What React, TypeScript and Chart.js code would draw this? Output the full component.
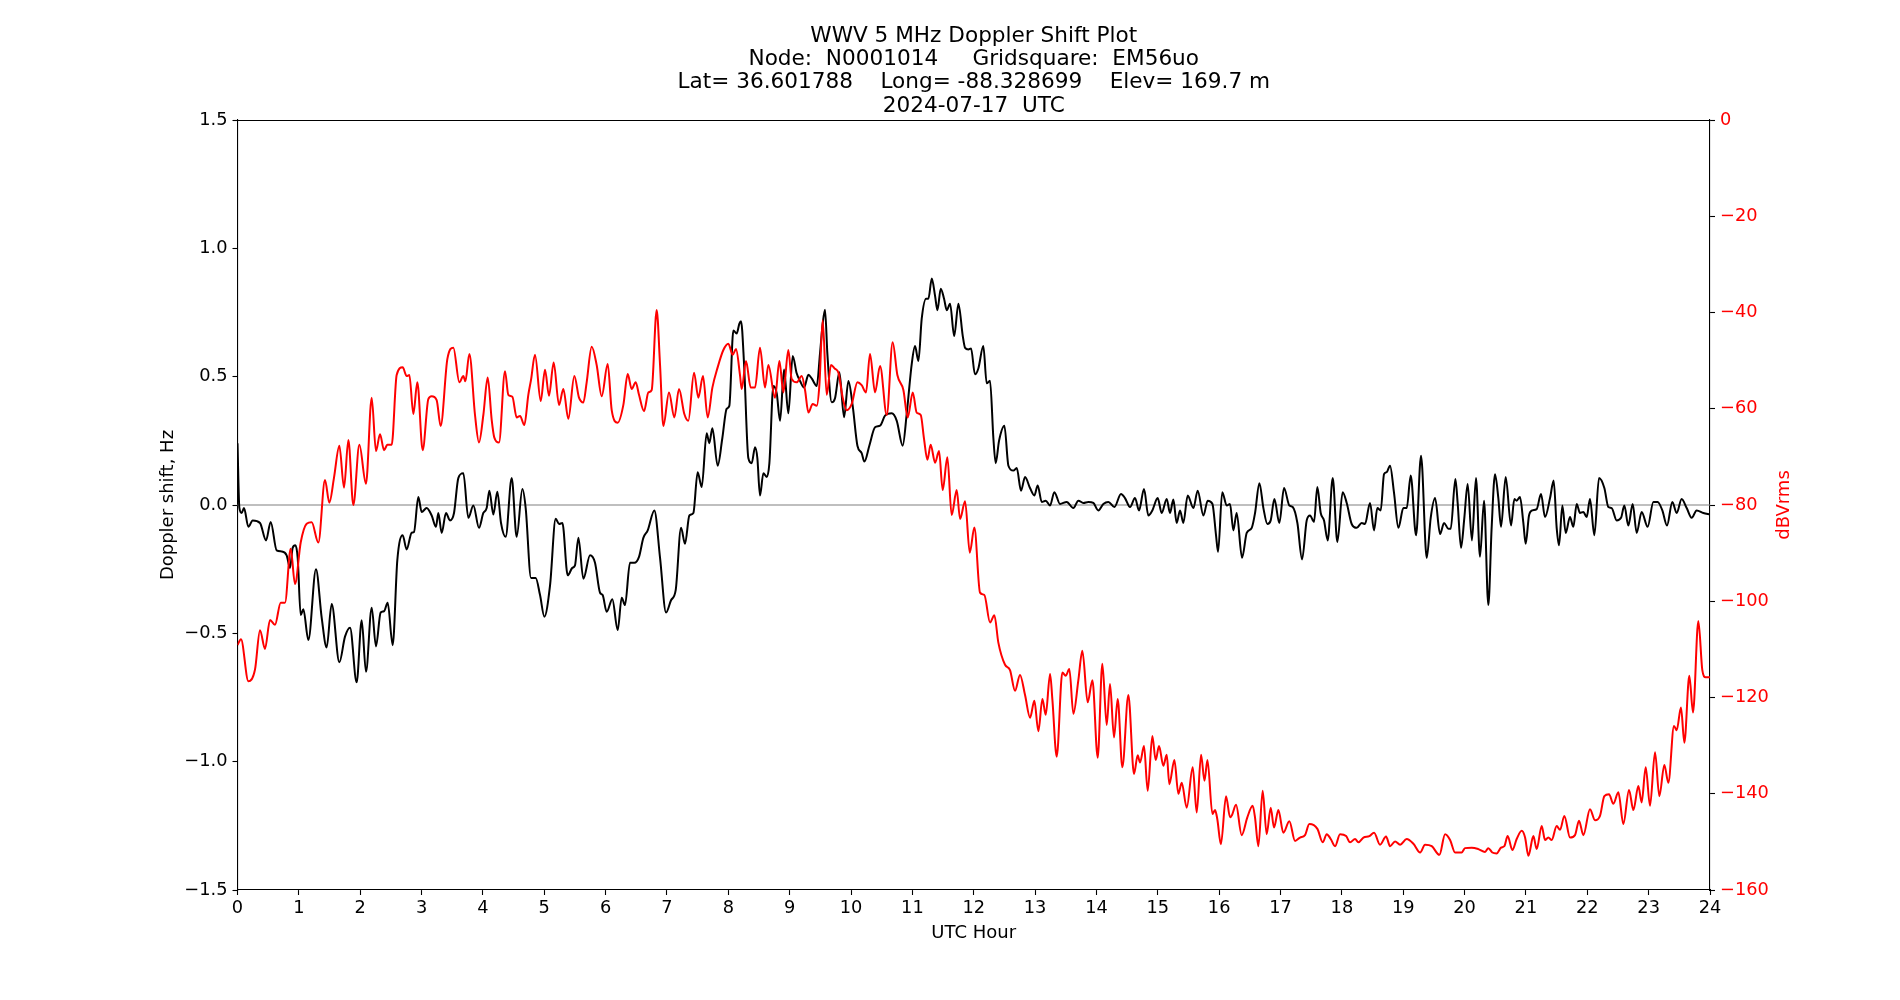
import React, { useEffect, useRef } from "react";
import { Chart, registerables } from "chart.js";

Chart.register(...registerables);

// Figure text
const titleLines = [
  "WWV 5 MHz Doppler Shift Plot",
  "Node:  N0001014     Gridsquare:  EM56uo",
  "Lat= 36.601788    Long= -88.328699    Elev= 169.7 m",
  "2024-07-17  UTC",
];
const xAxisTitle = "UTC Hour";
const leftAxisTitle = "Doppler shift, Hz";
const rightAxisTitle = "dBVrms";

// Axis ranges and tick steps
const hourRange = [0, 24];
const hourStep = 1;
const shiftRange = [-1.5, 1.5];
const shiftStep = 0.5;
const levelRange = [-160, 0];
const levelStep = 20;

// Doppler shift (Hz) vs UTC hour
const dopplerHours = [
  0, 0.03, 0.068, 0.106, 0.177, 0.247, 0.367, 0.465, 0.541, 0.638, 0.72, 0.801, 0.856, 0.899, 0.943, 0.981,
  1.03, 1.073, 1.155, 1.279, 1.372, 1.453, 1.535, 1.66, 1.752, 1.834, 1.942, 2.024, 2.094, 2.187, 2.257, 2.333,
  2.388, 2.448, 2.529, 2.605, 2.692, 2.757, 2.839, 2.877, 2.947, 3.002, 3.083, 3.165, 3.235, 3.273, 3.328, 3.398,
  3.463, 3.529, 3.599, 3.681, 3.762, 3.844, 3.936, 4.007, 4.061, 4.105, 4.17, 4.235, 4.295, 4.371, 4.469, 4.55,
  4.643, 4.697, 4.784, 4.86, 4.931, 5.001, 5.094, 5.186, 5.241, 5.295, 5.382, 5.457, 5.501, 5.556, 5.637, 5.746,
  5.827, 5.909, 5.952, 6.017, 6.109, 6.197, 6.262, 6.316, 6.397, 6.468, 6.544, 6.615, 6.686, 6.794, 6.887, 6.985,
  7.066, 7.142, 7.229, 7.294, 7.365, 7.43, 7.5, 7.566, 7.647, 7.69, 7.74, 7.826, 7.902, 7.973, 8.016, 8.082,
  8.136, 8.18, 8.207, 8.256, 8.326, 8.381, 8.435, 8.473, 8.516, 8.571, 8.625, 8.669, 8.734, 8.789, 8.843, 8.908,
  8.978, 9.049, 9.114, 9.169, 9.234, 9.305, 9.359, 9.441, 9.494, 9.538, 9.576, 9.614, 9.685, 9.739, 9.81, 9.886,
  9.957, 10.027, 10.104, 10.173, 10.217, 10.298, 10.391, 10.473, 10.554, 10.663, 10.745, 10.842, 10.908, 10.99,
  11.043, 11.098, 11.152, 11.223, 11.261, 11.316, 11.37, 11.408, 11.462, 11.516, 11.56, 11.614, 11.681, 11.75,
  11.821, 11.859, 11.912, 11.956, 12.02, 12.075, 12.156, 12.211, 12.265, 12.32, 12.358, 12.412, 12.499, 12.565,
  12.646, 12.701, 12.77, 12.836, 12.917, 12.988, 13.042, 13.108, 13.173, 13.243, 13.314, 13.406, 13.515, 13.623,
  13.705, 13.786, 13.868, 13.949, 14.031, 14.112, 14.194, 14.292, 14.4, 14.465, 14.547, 14.628, 14.694, 14.775,
  14.846, 14.911, 14.998, 15.063, 15.145, 15.199, 15.253, 15.308, 15.362, 15.416, 15.487, 15.58, 15.65, 15.743,
  15.813, 15.889, 15.949, 15.982, 16.05, 16.123, 16.177, 16.231, 16.285, 16.373, 16.449, 16.531, 16.585, 16.656,
  16.721, 16.786, 16.84, 16.9, 16.981, 17.057, 17.144, 17.199, 17.275, 17.351, 17.427, 17.481, 17.546, 17.6,
  17.655, 17.709, 17.769, 17.851, 17.926, 18.013, 18.079, 18.16, 18.242, 18.323, 18.377, 18.459, 18.524, 18.578,
  18.633, 18.687, 18.731, 18.785, 18.85, 18.921, 19.002, 19.057, 19.122, 19.209, 19.29, 19.383, 19.448, 19.519,
  19.6, 19.666, 19.736, 19.774, 19.85, 19.887, 19.942, 19.996, 20.05, 20.12, 20.186, 20.251, 20.317, 20.387,
  20.441, 20.496, 20.55, 20.594, 20.67, 20.757, 20.811, 20.849, 20.903, 20.958, 20.996, 21.05, 21.105, 21.175,
  21.246, 21.311, 21.393, 21.452, 21.501, 21.539, 21.594, 21.648, 21.718, 21.773, 21.827, 21.881, 21.936, 21.99,
  22.044, 22.115, 22.191, 22.278, 22.343, 22.398, 22.479, 22.55, 22.604, 22.669, 22.74, 22.805, 22.886, 22.984,
  23.077, 23.147, 23.223, 23.299, 23.386, 23.457, 23.538, 23.62, 23.701, 23.783, 23.892, 24,
];
const dopplerShift = [
  0.24, -0.01, -0.031, -0.012, -0.085, -0.06, -0.07, -0.138, -0.066, -0.177, -0.181, -0.196, -0.245, -0.167, -0.157, -0.206,
  -0.429, -0.406, -0.526, -0.25, -0.439, -0.555, -0.386, -0.613, -0.513, -0.478, -0.691, -0.449, -0.65, -0.4, -0.551, -0.419,
  -0.414, -0.381, -0.546, -0.215, -0.118, -0.173, -0.108, -0.105, 0.031, -0.027, -0.012, -0.041, -0.085, -0.031, -0.109, -0.031,
  -0.06, -0.031, 0.105, 0.124, -0.05, -0.002, -0.089, -0.031, -0.012, 0.056, -0.037, 0.052, -0.07, -0.124, 0.105, -0.124,
  0.062, -0.012, -0.284, -0.284, -0.351, -0.435, -0.313, -0.054, -0.074, -0.07, -0.274, -0.245, -0.235, -0.128, -0.287, -0.196,
  -0.225, -0.342, -0.351, -0.416, -0.367, -0.487, -0.361, -0.39, -0.225, -0.225, -0.202, -0.128, -0.099, -0.021, -0.206, -0.419,
  -0.371, -0.332, -0.089, -0.151, -0.041, -0.031, 0.128, 0.07, 0.28, 0.241, 0.299, 0.153, 0.26, 0.375, 0.386, 0.68,
  0.668, 0.707, 0.716, 0.551, 0.183, 0.163, 0.225, 0.183, 0.037, 0.124, 0.109, 0.163, 0.464, 0.435, 0.328, 0.528,
  0.357, 0.581, 0.513, 0.483, 0.458, 0.507, 0.493, 0.464, 0.59, 0.707, 0.761, 0.59, 0.4, 0.416, 0.517, 0.342,
  0.483, 0.386, 0.231, 0.202, 0.169, 0.231, 0.303, 0.309, 0.348, 0.357, 0.328, 0.231, 0.357, 0.551,
  0.619, 0.561, 0.726, 0.804, 0.804, 0.882, 0.814, 0.759, 0.843, 0.804, 0.759, 0.784, 0.658, 0.784,
  0.658, 0.612, 0.606, 0.61, 0.509, 0.532, 0.619, 0.474, 0.484, 0.26, 0.163, 0.25, 0.309, 0.153,
  0.134, 0.144, 0.056, 0.109, 0.066, 0.037, 0.076, 0.012, 0.017, -0.002, 0.05, 0.004, 0.012, -0.012,
  0.017, 0.008, 0.012, 0.008, -0.021, 0.004, 0.012, -0.008, 0.043, 0.027, -0.008, 0.027, -0.021, 0.062,
  -0.041, -0.021, 0.027, -0.031, 0.023, -0.031, 0.021, -0.07, -0.021, -0.07, 0.037, -0.012, 0.056, -0.041,
  0.017, 0.005, -0.118, -0.183, 0.05, -0.002, 0.004, -0.099, -0.031, -0.206, -0.109, -0.089, -0.031, 0.085,
  -0.012, -0.074, -0.06, 0.023, -0.07, 0.066, -0.002, -0.008, -0.07, -0.212, -0.06, -0.041, -0.066, 0.07,
  -0.031, -0.06, -0.138, 0.105, -0.144, 0.05, 0.008, -0.074, -0.089, -0.07, -0.074, 0.008, -0.099, -0.012,
  -0.021, 0.12, 0.128, 0.153, 0.047, -0.089, -0.012, -0.012, 0.115, -0.118, 0.192, -0.206, -0.05, 0.027,
  -0.113, -0.07, -0.093, -0.093, 0.101, 0.008, -0.167, -0.05, 0.082, -0.138, 0.105, -0.202, 0.017, -0.39,
  -0.089, 0.12, 0.027, -0.085, 0.109, -0.08, 0.023, 0.017, 0.031, -0.07, -0.151, -0.041, -0.021, -0.016,
  0.043, -0.047, 0.027, 0.095, -0.089, -0.157, -0.002, -0.109, -0.047, -0.085, 0.004, -0.031, -0.027, -0.047,
  0.023, -0.118, 0.105, 0.066, -0.008, -0.012, -0.06, -0.05, -0.002, -0.08, 0.004, -0.109, -0.027, -0.085,
  0.012, 0.012, -0.021, -0.08, 0.012, -0.031, 0.023, -0.012, -0.05, -0.021, -0.031, -0.037,
];

// Received signal level (dBVrms) vs UTC hour
const levelHours = [
  0, 0.057, 0.177, 0.285, 0.367, 0.448, 0.53, 0.611, 0.704, 0.774, 0.867, 0.937, 1.03, 1.127, 1.209, 1.318,
  1.426, 1.497, 1.573, 1.66, 1.736, 1.807, 1.888, 1.986, 2.094, 2.187, 2.257, 2.323, 2.388, 2.442, 2.513, 2.594,
  2.692, 2.757, 2.801, 2.866, 2.931, 3.018, 3.11, 3.165, 3.246, 3.311, 3.42, 3.518, 3.616, 3.681, 3.714, 3.779,
  3.871, 3.936, 4.007, 4.078, 4.143, 4.186, 4.262, 4.36, 4.414, 4.48, 4.55, 4.605, 4.675, 4.74, 4.784, 4.849,
  4.942, 5.012, 5.077, 5.153, 5.24, 5.311, 5.392, 5.49, 5.566, 5.637, 5.691, 5.773, 5.854, 5.936, 6.034, 6.099,
  6.197, 6.289, 6.36, 6.425, 6.49, 6.544, 6.626, 6.697, 6.751, 6.832, 6.887, 6.941, 7.033, 7.12, 7.196, 7.283,
  7.348, 7.441, 7.511, 7.587, 7.663, 7.74, 7.826, 7.919, 8.0, 8.071, 8.125, 8.19, 8.218, 8.288, 8.365, 8.435,
  8.516, 8.598, 8.652, 8.761, 8.832, 8.897, 8.978, 9.032, 9.114, 9.196, 9.25, 9.305, 9.375, 9.441, 9.484, 9.538,
  9.603, 9.674, 9.739, 9.794, 9.864, 9.93, 10.011, 10.104, 10.173, 10.244, 10.309, 10.391, 10.473, 10.582,
  10.678, 10.755, 10.853, 10.924, 11.006, 11.07, 11.136, 11.19, 11.244, 11.298, 11.37, 11.434, 11.494, 11.57,
  11.64, 11.722, 11.777, 11.859, 11.935, 12.01, 12.102, 12.173, 12.265, 12.336, 12.401, 12.51, 12.591, 12.673,
  12.754, 12.836, 12.918, 12.988, 13.053, 13.119, 13.173, 13.244, 13.282, 13.352, 13.444, 13.498, 13.558, 13.624,
  13.705, 13.77, 13.857, 13.934, 14.02, 14.096, 14.167, 14.221, 14.286, 14.346, 14.422, 14.52, 14.612, 14.672,
  14.71, 14.775, 14.835, 14.911, 14.965, 15.02, 15.09, 15.145, 15.188, 15.27, 15.335, 15.39, 15.471, 15.569,
  15.634, 15.705, 15.76, 15.809, 15.89, 15.933, 15.97, 16.028, 16.112, 16.177, 16.21, 16.275, 16.367, 16.459,
  16.546, 16.584, 16.639, 16.709, 16.774, 16.84, 16.894, 16.965, 17.046, 17.144, 17.236, 17.318, 17.399, 17.47,
  17.601, 17.688, 17.753, 17.818, 17.889, 17.97, 18.069, 18.134, 18.215, 18.269, 18.351, 18.448, 18.525, 18.622,
  18.72, 18.786, 18.867, 18.949, 19.057, 19.166, 19.275, 19.356, 19.465, 19.59, 19.682, 19.764, 19.845, 19.953,
  20.007, 20.116, 20.224, 20.333, 20.387, 20.452, 20.523, 20.594, 20.648, 20.702, 20.779, 20.849, 20.931, 20.986,
  21.04, 21.121, 21.175, 21.257, 21.311, 21.365, 21.42, 21.501, 21.556, 21.626, 21.719, 21.8, 21.865, 21.936,
  22.044, 22.126, 22.207, 22.278, 22.354, 22.425, 22.506, 22.588, 22.68, 22.751, 22.832, 22.886, 22.952, 23.022,
  23.104, 23.174, 23.256, 23.321, 23.413, 23.457, 23.527, 23.582, 23.663, 23.723, 23.81, 23.875, 23.929, 24,
];
const levelDbv = [
  -109.1, -107.9, -116.6, -114.2, -106.0, -109.9, -103.9, -104.9, -100.3, -100.3, -89.1, -96.4, -87.8, -83.9, -83.6, -87.8,
  -74.8, -79.5, -74.3, -67.7, -76.4, -66.5, -80.0, -67.5, -75.6, -57.7, -68.8, -65.3, -68.6, -67.5, -67.5, -53.0,
  -51.4, -53.2, -53.0, -61.1, -54.5, -68.6, -58.0, -57.4, -58.2, -63.6, -49.7, -47.3, -54.5, -53.2, -54.3, -48.6,
  -61.3, -67.0, -61.3, -53.5, -62.3, -66.0, -67.0, -52.2, -57.1, -57.5, -61.8, -61.5, -63.4, -57.1, -54.0, -48.8,
  -58.4, -51.9, -57.3, -50.4, -59.2, -55.9, -62.1, -53.2, -57.7, -58.7, -54.5, -47.1, -50.9, -57.4, -50.7, -60.3,
  -62.9, -59.2, -52.8, -55.9, -54.5, -57.1, -60.5, -56.6, -56.1, -39.5, -50.9, -63.6, -56.6, -61.8, -55.9, -61.1,
  -62.5, -52.5, -57.7, -53.2, -61.8, -55.6, -51.4, -47.8, -46.5, -48.8, -47.6, -53.0, -55.9, -50.1, -55.6, -55.6,
  -47.3, -55.6, -50.9, -57.7, -50.1, -56.6, -47.8, -53.8, -54.5, -53.2, -56.1, -60.8, -59.0, -59.4, -55.1, -41.6,
  -57.1, -50.9, -51.7, -52.5, -57.7, -60.3, -59.0, -54.5, -55.1, -56.6, -48.6, -56.6, -51.1, -61.3,
  -46.2, -53.0, -56.1, -61.8, -56.6, -60.8, -61.3, -66.3, -70.6, -67.5, -71.2, -68.8, -76.9, -70.1,
  -82.1, -76.9, -82.9, -79.2, -89.9, -84.7, -98.2, -98.7, -104.4, -102.9, -108.6, -113.2, -114.3, -118.6,
  -115.3, -119.5, -124.2, -120.7, -127.0, -120.3, -123.6, -115.1, -120.5, -132.3, -114.8, -115.5, -114.1, -123.4,
  -116.4, -110.3, -121.0, -116.4, -132.5, -113.0, -125.7, -117.2, -128.3, -120.3, -134.5, -119.5, -135.9, -132.0,
  -133.5, -130.1, -139.4, -128.0, -133.0, -130.1, -134.2, -131.9, -138.0, -133.0, -140.0, -137.7, -142.9, -134.5,
  -143.9, -131.9, -137.3, -133.0, -144.2, -143.4, -145.3, -150.5, -140.5, -144.9, -144.4, -142.3, -148.6, -144.9,
  -142.5, -144.9, -150.9, -139.4, -148.4, -142.9, -147.0, -143.4, -148.1, -145.7, -149.8, -149.1, -148.6, -146.3,
  -147.3, -150.1, -148.4, -149.4, -150.9, -148.4, -148.8, -150.1, -149.4, -150.1, -149.1, -148.8, -148.1, -150.6,
  -148.9, -150.9, -149.9, -150.6, -149.4, -150.4, -152.2, -150.6, -150.9, -152.7, -148.4, -149.6, -152.2, -152.2,
  -151.3, -151.2, -151.5, -152.1, -151.3, -152.2, -152.4, -151.2, -150.9, -148.8, -151.7, -149.4, -147.7, -149.1,
  -152.9, -148.8, -151.5, -146.7, -149.6, -149.1, -149.6, -146.7, -147.5, -144.6, -149.1, -148.6, -145.6, -148.6,
  -143.2, -145.5, -144.6, -140.5, -140.1, -142.1, -139.7, -146.3, -139.2, -143.4, -138.4, -141.8, -134.5, -142.5,
  -131.4, -140.5, -134.0, -137.7, -125.9, -126.8, -122.1, -129.4, -115.5, -123.1, -104.1, -114.3, -115.8, -115.8,
];

const FONT = '"DejaVu Sans", Verdana, sans-serif';
const TICK_PX = 17.8;
const LABEL_PX = 18;
const TITLE_PX = 21.6;

const toMinus = (s: string) => s.replace("-", "\u2212");

// Spine box, zero reference line and all figure-level text
const figureDecor = {
  id: "figureDecor",
  beforeDatasetsDraw(chart: any) {
    const { ctx, chartArea } = chart;
    const y0 = chart.scales.y.getPixelForValue(0);
    ctx.save();
    ctx.strokeStyle = "#808080";
    ctx.lineWidth = 1.2;
    ctx.beginPath();
    ctx.moveTo(chartArea.left, y0);
    ctx.lineTo(chartArea.right, y0);
    ctx.stroke();
    ctx.restore();
  },
  afterDatasetsDraw(chart: any) {
    const { ctx, chartArea } = chart;
    ctx.save();
    ctx.strokeStyle = "#000";
    ctx.lineWidth = 1.1;
    ctx.beginPath();
    ctx.moveTo(chartArea.left, Math.round(chartArea.top) + 0.5);
    ctx.lineTo(chartArea.right, Math.round(chartArea.top) + 0.5);
    ctx.stroke();
    ctx.restore();
  },
  afterDraw(chart: any) {
    const { ctx, chartArea } = chart;
    const cx = (chartArea.left + chartArea.right) / 2;
    const cy = (chartArea.top + chartArea.bottom) / 2;
    ctx.save();
    ctx.fillStyle = "#000";
    ctx.textAlign = "center";
    ctx.textBaseline = "alphabetic";

    ctx.font = `${TITLE_PX}px ${FONT}`;
    const lineGap = 23.3;
    const lastBase = chartArea.top - 8.3;
    titleLines.forEach((line, i) => {
      ctx.fillText(line, cx, lastBase - (titleLines.length - 1 - i) * lineGap);
    });

    ctx.font = `${LABEL_PX}px ${FONT}`;
    ctx.fillText(xAxisTitle, cx, 938);

    ctx.save();
    ctx.translate(172.5, cy);
    ctx.rotate(-Math.PI / 2);
    ctx.fillText(leftAxisTitle, 0, 0);
    ctx.restore();

    ctx.save();
    ctx.fillStyle = "red";
    ctx.translate(1789, cy);
    ctx.rotate(-Math.PI / 2);
    ctx.fillText(rightAxisTitle, 0, 0);
    ctx.restore();

    ctx.restore();
  },
};

export default function App() {
  const canvasRef = useRef<HTMLCanvasElement | null>(null);

  useEffect(() => {
    const canvas = canvasRef.current;
    if (!canvas) return;

    const shiftPoints = dopplerHours.map((h, i) => ({ x: h, y: dopplerShift[i] }));
    const levelPoints = levelHours.map((h, i) => ({ x: h, y: levelDbv[i] }));

    const tickFont = { family: FONT, size: TICK_PX };
    const axisGrid = {
      display: true,
      drawOnChartArea: false,
      drawTicks: true,
      tickLength: 5,
      tickWidth: 1.1,
      color: "#000",
    };
    const axisBorder = { display: true, color: "#000", width: 1.1 };

    const chart = new Chart(canvas, {
      type: "line",
      data: {
        datasets: [
          {
            label: "Level",
            data: levelPoints,
            yAxisID: "y2",
            borderColor: "red",
            backgroundColor: "red",
            borderWidth: 2,
            pointRadius: 0,
            cubicInterpolationMode: "monotone",
            fill: false,
          },
          {
            label: "Doppler",
            data: shiftPoints,
            yAxisID: "y",
            borderColor: "black",
            backgroundColor: "black",
            borderWidth: 2,
            pointRadius: 0,
            cubicInterpolationMode: "monotone",
            fill: false,
          },
        ],
      },
      options: {
        animation: false,
        responsive: false,
        devicePixelRatio: 1,
        layout: { padding: { top: 120, left: 0, right: 0, bottom: 0 } },
        plugins: {
          legend: { display: false },
          tooltip: { enabled: false },
          title: { display: false },
        },
        events: [],
        scales: {
          x: {
            type: "linear",
            position: "bottom",
            min: hourRange[0],
            max: hourRange[1],
            grid: axisGrid,
            border: axisBorder,
            ticks: {
              stepSize: hourStep,
              color: "#000",
              font: tickFont,
              padding: 3,
              maxRotation: 0,
              autoSkip: false,
              callback: (v: any) => String(v),
            },
            afterFit: (scale: any) => {
              scale.height = 110;
            },
          },
          y: {
            type: "linear",
            position: "left",
            min: shiftRange[0],
            max: shiftRange[1],
            grid: axisGrid,
            border: axisBorder,
            ticks: {
              stepSize: shiftStep,
              color: "#000",
              font: tickFont,
              padding: 5,
              callback: (v: any) => toMinus(Number(v).toFixed(1)),
            },
            afterFit: (scale: any) => {
              scale.width = 237.5;
            },
          },
          y2: {
            type: "linear",
            position: "right",
            min: levelRange[0],
            max: levelRange[1],
            grid: axisGrid,
            border: axisBorder,
            ticks: {
              stepSize: levelStep,
              color: "red",
              font: tickFont,
              padding: 5,
              callback: (v: any) => toMinus(String(v)),
            },
            afterFit: (scale: any) => {
              scale.width = 190;
            },
          },
        },
      } as any,
      plugins: [figureDecor],
    });

    return () => chart.destroy();
  }, []);

  return (
    <div
      style={{
        position: "absolute",
        left: 0,
        top: 0,
        width: 1900,
        height: 1000,
        background: "#fff",
      }}
    >
      <canvas ref={canvasRef} width={1900} height={1000} style={{ display: "block" }} />
    </div>
  );
}
